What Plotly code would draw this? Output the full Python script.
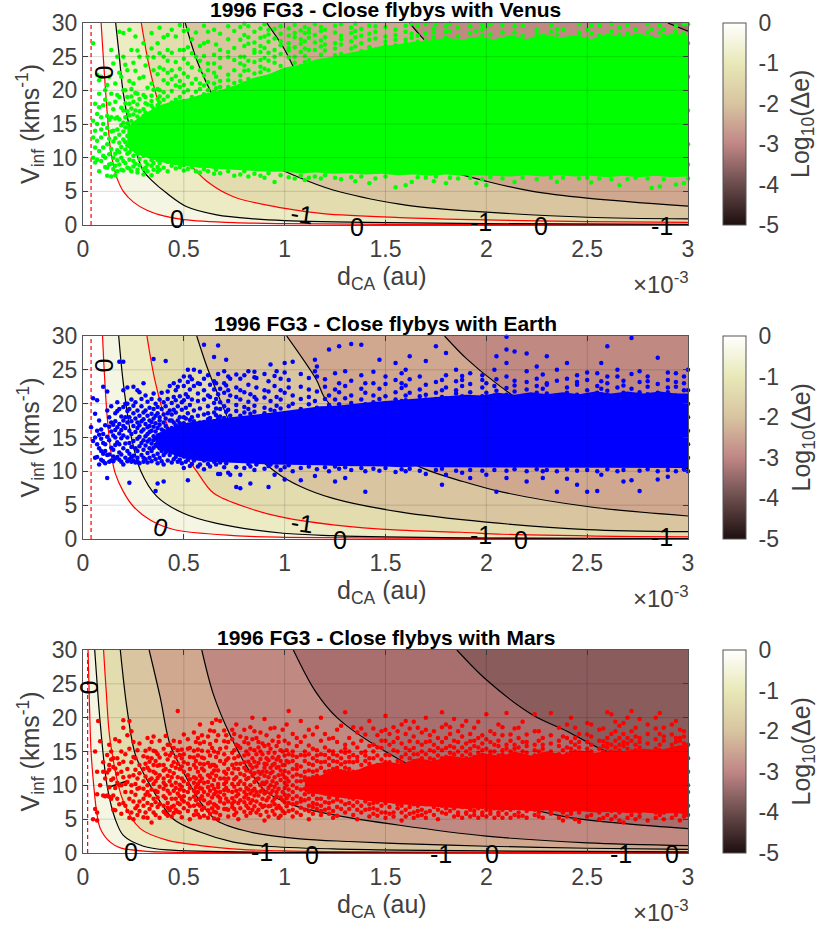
import plotly.graph_objects as go

W, H = 817, 926
AX_L, AX_R = 83, 688
TOPS = [23, 336, 650]
BOTS = [225, 539, 853]
NAMES = ["Venus", "Earth", "Mars"]
DOT = ["#00ff00", "#0000ff", "#ff0000"]
X_TICKS = [0, 0.5, 1, 1.5, 2, 2.5, 3]
X_LABELS = ["0", "0.5", "1", "1.5", "2", "2.5", "3"]
Y_TICKS = [0, 5, 10, 15, 20, 25, 30]
BANDS = ["#f5f5e3", "#ecebc3", "#e3dcaf", "#d9c5a0", "#cfa88f", "#c08a82", "#a96e6e", "#8a5c5c"]
LINE = ["red", "black", "red", "black", "black", "black", "black", "black"]
CB_SCALE = [[0, "#1e0f0f"], [0.2, "#6a4c4c"], [0.4, "#c08686"], [0.6, "#d8c4a0"], [0.8, "#e8e8b8"], [1, "#ffffff"]]
CB_TICKS = [0, -1, -2, -3, -4, -5]
CB_LABELS = ["0", "-1", "-2", "-3", "-4", "-5"]
IMPACT = [0.04, 0.04, 0.023]

V1 = [(.09,30),(.094,28),(.107,22),(.119,17),(.135,11.5),(.15,9),(.168,7),(.2,5),(.25,3.4),(.317,2.2),(.4,1.35),(.5,.8),(.75,.35),(1,.2),(1.5,.1),(3,.03)]
V2 = [(.162,30),(.18,25),(.2,19.5),(.243,13),(.3,8),(.342,6.6),(.416,4.7),(.515,2.7),(.663,1.5),(.85,.9),(1,.65),(1.5,.35),(2,.2),(3,.1)]
V3 = [(.289,30),(.325,24),(.366,19),(.449,12),(.53,9),(.614,6.5),(.746,4.2),(.993,2.5),(1.19,1.7),(1.57,1.1),(2,.75),(2.5,.5),(3,.38)]
V4 = [(.507,30),(.564,24.5),(.63,20),(.746,13.6),(.9,9.5),(1.06,7.2),(1.24,5.2),(1.57,3.1),(1.735,2.5),(2,1.9),(2.5,1.15),(3,.9)]
V5 = [(.911,30),(.993,26.4),(1.1,20.5),(1.3,14.5),(1.6,10),(2,6.5),(2.23,5),(2.5,4),(3,2.8)]
V6 = [(1.62,30),(1.68,27.9),(1.81,24),(2.04,18.8),(2.4,14),(3,8.5)]
V7 = [(2.9,30),(3,28.8)]
VENUS_CURVES = [V1, V2, V3, V4, V5, V6, V7]

E1 = [(.097,30),(.105,25),(.12,18),(.14,12.5),(.16,9.7),(.2,7),(.25,4.8),(.333,2.8),(.449,1.4),(.746,.5),(1,.25),(1.5,.12),(3,.03)]
E2 = [(.177,30),(.2,23),(.24,15),(.284,10.2),(.366,6.3),(.498,3.8),(.663,2.3),(.993,.85),(1.24,.5),(1.5,.3),(2,.15),(3,.07)]
E3 = [(.317,30),(.36,23),(.43,16),(.564,10),(.647,6.8),(.828,4.5),(.993,3.2),(1.24,2.1),(1.57,1.3),(1.875,1),(2.08,.7),(2.76,.35),(3,.3)]
E4 = [(.564,30),(.614,25.5),(.663,21.8),(.77,15),(.96,9.8),(1.076,7.8),(1.24,6),(1.57,4),(2,2.5),(2.5,1.4),(3,1.08)]
E5 = [(1.01,30),(1.158,23.5),(1.2,20.8),(1.4,15),(1.69,10.4),(1.884,8.5),(2.07,7),(2.5,4.8),(3,3.4)]
E6 = [(1.793,30),(1.9,26.7),(2.05,23),(2.5,14),(3,10.4)]
EARTH_CURVES = [E1, E2, E3, E4, E5, E6]

M1 = [(.025,30),(.032,22),(.04,15),(.053,10),(.068,6),(.086,3.6),(.135,1.6),(.185,.75),(.317,.25),(1,.06),(3,.01)]
M2 = [(.058,30),(.07,25),(.086,19),(.119,10),(.16,5),(.2,2.6),(.3,1),(.416,.45),(1,.1),(3,.02)]
M3 = [(.102,30),(.115,24),(.135,16.5),(.2,7.6),(.284,3.6),(.416,1.9),(.58,1.1),(.78,.55),(1,.3),(1.5,.15),(3,.04)]
M4 = [(.185,30),(.218,21.4),(.26,14.5),(.333,10),(.449,5),(.58,3.1),(.746,1.6),(.911,1),(1.24,.6),(1.57,.42),(2,.3),(3,.18)]
M5 = [(.328,30),(.383,23),(.432,16),(.515,11),(.58,7.6),(.663,4.8),(.828,3.1),(1.076,2.1),(1.32,1.7),(1.57,1.4),(2,1),(2.5,.7),(3,.55)]
M6 = [(.589,30),(.647,23.4),(.73,17.4),(.828,12),(.91,9),(1.05,7),(1.25,5.6),(1.57,4.1),(2,2.5),(2.5,1.5),(3,1.1)]
M7 = [(1.043,30),(1.15,24),(1.26,20),(1.5,15),(1.8,10.5),(2.1,7.5),(2.4,5.3),(2.7,4.3),(3,3.6)]
M8 = [(1.854,30),(2,25.6),(2.23,20.4),(2.4,18),(2.58,15.2),(2.8,13),(3,11)]
MARS_CURVES = [M1, M2, M3, M4, M5, M6, M7, M8]

VENUS_BAND_D = [.22,.27,.32,.38,.45,.52,.6,.68,.76,.84,.92,1,1.08,1.16,1.24,1.32,1.4,1.48,1.56,1.64,1.72,1.8,1.88,1.96,2.04,2.12,2.2,2.28,2.36,2.44,2.52,2.6,2.68,2.76,2.84,2.92,3]
VENUS_BAND_HI = [14.5,15.8,16.8,17.8,18.4,18.8,19.5,20,20.8,21.8,22.4,23.4,23.8,24.6,25,25.6,26,26.6,26.8,27.2,27.4,27.8,27.5,28,27.6,28.2,27.6,28.4,27.8,28.2,27.6,28.4,28,28.4,27.8,28.4,28.2]
VENUS_BAND_LO = [11.5,10.5,10,9.4,9,8.7,8.5,8.3,8.2,8,7.9,7.9,7.7,7.8,7.6,7.7,7.5,7.6,7.4,7.5,7.3,7.5,7.3,7.4,7.3,7.2,7.4,7.2,7.4,7.2,7.3,7.1,7.3,7.1,7.3,7.1,7.2]
VENUS_COLS = [
(.05,[27,15.5,13,10]),(.06,[18,14,11.5,9.3]),(.07,[22.3,16.5,15,12.5,9.7]),(.08,[21.5,19.5,17.5,11,8]),(.09,[16,14.2,13,9.5,22]),(.1,[15,11.5,17.8,10.3]),
(.11,[13.5,20,10,8.6,18.6]),(.12,[20.8,16.2,12,8.5,7.3,14.4]),(.13,[22,18,15.6,10.5,12.8,9]),(.14,[26,16,13.9,11.3,9.1,7.2,19.5]),(.15,[24,14,10,12.4,17.2,8.3]),(.16,[21,18.3,15.8,12.9,10.6,7.4,8.8]),
(.17,[25,16,14.2,11.1,8,19.3,9.6]),(.18,[28.7,19,22.6,13.4,15.7,9,10.8,12.2]),(.19,[22,17.4,14.8,11.6,8.2,10]),(.2,[25,28.5,17,20,15.2,12.7,9.5,13.9,8.1]),(.21,[20,23.8,18.1,16,11.2,14.5,9.2,12.3]),(.22,[23,16.9,8.5,10.6,13.2,19,15.1,11.8]),
(.23,[29,18,21.4,14.6,12.4,9.7,16.3,10.8,8.4]),(.24,[26,8,17.3,20.2,15.4,13.1,11.2,19.1,14]),(.25,[21,24.1,18.3,16.4,12.1,9.5,10.3,13.8,8.7]),(.26,[28,17,15.2,19.6,11,14.4,9.1,12.6,22.9]),(.27,[19.5,7.8,25.9,16.1,13.4,8.2,10.5,17.9,14.7]),(.28,[25,18.7,21.8,15.7,12.2,9.8,11.4,16.9,8.9,13.6]),
(.3,[22,7.5,27,17.2,19.3,15,13,10.3,8.3,11.8,16.2,14.2]),(.31,[19,8.5,23.7,16.7,12.4,9.4,18.1,14.8,10.8]),(.32,[25,17.9,20.4,15.6,8,11.2,9,16.4]),(.34,[21,7.4,26.2,17.7,16.1,19.2,10.1,8.8,18.4,9.6,28.5]),(.35,[23,8.2,16.8,20.1,11.4,15.3,9.2,24.9,17.3]),(.37,[27,20.2,17.8,16.2,8.6,10.4,22.4,18.7,9.7,7.9]),
(.38,[20,25.5,18.2,16.6,8.2,11,23.4,29.3,19.1,9.2]),(.4,[25,17.5,21.5,16,8.5,10.2,19.7,27.9,9.7,23.1,18.6]),(.42,[21,28.2,17.1,24.4,8,19.1,9.4,26,16.8,22.6,10.6]),(.44,[23,18.2,19.9,8.8,17,29,25.6,10.1,21.7,9.6,16.3]),(.46,[28,17.5,24.2,20.7,8.4,18.6,9.2,22.1,16.6]),(.48,[20.5,26,19,18,8.6,23.2,17,9.9,21.4,29.7]),
(.5,[26,17.3,19.7,18.4,8.1,22.5,24.7,8.9,20.8,16.6,28.8]),(.52,[29,18,22,20,8.3,24,17,26.4,9.5]),(.54,[19,21,17.4,23.4,8.6,18.3,25.5,27.6]),(.56,[25,18.1,19.8,21.7,8,17.2,28.6,9.2]),(.58,[21,18.6,23,20.2,7.8,17.5,26.6,24.4,8.8]),(.6,[27,19.4,18,22.2,8.3,20.7,29.6,25.1]),
(.62,[24,18.3,21.2,8,19.2,27.2,23,20,28.7]),(.65,[29,19.8,18.4,22.6,7.6,25.3,21,8.6,24]),(.66,[22,20.3,18.8,26.8,8.2,19.4]),(.68,[26,23.4,19.7,21.4,7.7,28.4,20.5,24.8]),(.72,[20.5,22.3,27.6,24.9,8,19.9,21.5,25.7,29.5]),(.75,[23,21.1,26.3,19.4,7.3,28.8,24.5,20.3]),
(.78,[27.5,22.2,25,20.6,7.5,24,21.4,29.4]),(.8,[25,22.9,28.2,8,21,23.7,26.6,29.9]),(.82,[29.5,24.4,21.7,7.2,26.9,23,27.9]),(.85,[22.5,25.6,28.7,7.6,24.2,27.1,26]),(.88,[24.5,27.8,22.7,7.3,25.7,29.2,23.5,26.6]),(.9,[28,7,24.8,26.3,23.2,29.8]),
(.92,[23,25.6,27.2,7.7,29,24.4,28.3]),(.95,[26,6.4,29.1,24.1,27.7,25]),(.98,[29.5,7.4,23.6,25.4,27.3,26.7,28.4]),(1.02,[27,7.1,24.9,29.2,25.9,28.1,26.3]),(1.05,[25,6.9,27.9,29.7,26.4,24.1,28.5]),(1.08,[23.6,28.9,7.3,25.7,26.9,27.6]),
(1.1,[28.5,6.7,25.1,27.3,29.4,24.2,26.2]),(1.12,[24.5,7,27.8,26,29.1,28.6]),(1.15,[26,7.2,28.2,29.8,24,27.1]),(1.18,[27.4,6.9,25.3,28.8,26.5,29.4]),(1.2,[29,7.4,25.9,27.9,24.4,26.8]),(1.25,[27,7,28.6,25.2,29.6,26.2]),
(1.28,[29.8,6.8,26.8,28.1,25.4,27.6]),(1.33,[28.5,7.1,26.2,29.3,27.3,25.2]),(1.35,[26.5,6.5,29.9,27.9,28.8]),(1.38,[25.8,7.2,28.1,29.1,27]),(1.42,[27.5,6.2,26.4,29.6,28.4]),(1.45,[29.5,6.9,26.1,28.7,27.7]),
(1.5,[28,7.2,26.6,29.4,27.2]),(1.55,[29,5.6,27.5,28.2,26.7]),(1.6,[27.5,5.9,29.6,28.7,26.9]),(1.63,[6.4,28.4,29.9,27.8]),(1.66,[29.5,7.1,28.1,27.2]),(1.7,[28.5,7,29.8,27.4]),
(1.74,[6.5,27.9,29.2,28.6]),(1.75,[29.8,7.2,27.3]),(1.8,[6.2,28.7,29.5,27.8]),(1.82,[28.8,7,29.9,27.2]),(1.86,[28,6.9,29.3]),(1.92,[29.5,7,27.5,28.5]),
(1.95,[6.2,28.8,27.6]),(1.98,[29,6.8,28.2,29.7]),(2,[5.9,27.3,29.4]),(2.02,[28.3,7.1,29.8]),(2.08,[29.7,6.9,28.6,27.5]),(2.14,[28.6,6.4,29.5,27.4]),
(2.18,[29.6,7,28.1]),(2.25,[29,6.8,27.9,28.4]),(2.32,[29.7,7,28.7,27.9]),(2.35,[6.4,28.3,29.1]),(2.38,[29,7,27.6]),(2.46,[29.8,6.9,28.6,28]),
(2.5,[29,7,27.7]),(2.52,[6.3,28.4,29.7]),(2.56,[29.6,6.9,28.1]),(2.62,[28.8,6.8,29.9,27.8]),(2.66,[5.9,28.3,29.3]),(2.7,[29.7,6.8,28.5]),
(2.74,[29.1,7,28.2,27.8]),(2.8,[29.8,6.9,28.6]),(2.82,[5.5,29.1,27.9]),(2.86,[5.7,28.6,29.6]),(2.88,[29,6.8,28.1]),(2.94,[6,28.7,29.5]),(2.98,[6.2,29.8,28.4,27.7]),(3,[29.8,27,6.9,12,17,22,9]),
]

EARTH_BAND_D = [.36,.42,.47,.52,.56,.62,.7,.78,.86,.94,1.02,1.1,1.18,1.26,1.34,1.42,1.5,1.58,1.66,1.74,1.82,1.9,1.98,2.06,2.14,2.22,2.3,2.38,2.46,2.54,2.62,2.7,2.78,2.86,2.94,3]
EARTH_BAND_HI = [15.5,16.2,16.8,17.2,17.4,17.6,17.9,18.1,18.4,18.7,19,19.2,19.6,19.7,20,20.2,20.4,20.6,20.8,21,21.2,21.3,21.2,21.6,21.3,21.7,21.4,21.7,21.4,21.8,21.5,21.8,21.5,21.8,21.5,21.5]
EARTH_BAND_LO = [13.5,12.8,12.2,11.8,11.6,11.4,11.3,11.2,11.1,11,11,10.9,10.9,10.8,10.8,10.7,10.7,10.6,10.7,10.6,10.6,10.6,10.6,10.5,10.6,10.5,10.5,10.6,10.5,10.5,10.6,10.5,10.5,10.6,10.5,10.5]
EARTH_COLS = [
(.04,[16.5]),(.05,[20.8,14.5]),(.06,[18.5,15,12]),(.07,[20.5,16,12.1,14]),(.08,[17.5,15.4,11,13.4]),(.09,[14.8,13,16.2,11.7]),
(.1,[22.5,15.5,11.5,14.2,12.6]),(.11,[14,16.8,13,11.2]),(.12,[21.8,19,9,15.1,12.4]),(.13,[18,12.5,14.6,16.6,11.4]),(.14,[13.5,15.9,17.2,11.6,19.6]),(.15,[11.5,15.3,13.2,16.9,12.2]),
(.16,[15,18.6,13.9,11.9,17.4,16.1]),(.17,[16.5,12.1,14.3,20.2,18.9]),(.18,[14,26.2,15.6,12.8,17,11.7,19.2]),(.19,[12.5,16.1,14.9,18.1,11.4]),(.2,[11,22,26.2,15.3,13.4,17.5,19.5,16.7]),(.21,[18,12,14.1,16.4,20]),
(.22,[20,15,13,17.2,11.5,18.9,22.4]),(.23,[16,8.3,14.2,12.6,19.2,18,11.8]),(.24,[17.4,13.6,15.5,20.6,12.1,11.4]),(.25,[22.5,14.5,16.7,12.3,18.6,11.6,19.7]),(.26,[13.4,15.8,17.8,20.2,11.3]),(.27,[22,13,19,16.4,14.8,12,17.2,11.5]),
(.28,[11.2,18.2,15.1,13.7,21.7,16.8]),(.29,[14.2,19.6,12.4,17.4,15.9,20.7]),(.3,[23,12,16.2,18.7,14.6,13.2,11.4,17.7]),(.31,[19,15.2,11.8,13.8,21.2,17]),(.32,[15.5,12.7,20.3,18.2,14.4,16.5,11.3]),(.33,[17.5,13.4,15.8,19.4,12,16.7,14.7]),
(.34,[14.1,18.5,11.5,20.7,16,13,17.3]),(.35,[21.5,13.5,26.6,15.2,17.8,12.3,19.2,14.6,16.6]),(.36,[20,7.1,11.8,18.2,13.9,15.9,14.9,17.1]),(.37,[8.2,16.4,12.6,19.5,14.2,18.6,11.2]),(.38,[18,12,20.6,15.3,13.4,16.9,14.6,17.5]),(.39,[14,19.2,11.5,21.6,16.2,15,13]),
(.4,[8.5,11,16,18.4,13.7,20.2,14.8,17.2,12.4]),(.41,[26.3,15.4,19.6,12.8,17.8,14.2,16.7]),(.42,[14,21.8,11.6,18.6,16.3,13.1,20.7,15.2]),(.43,[19,12.4,15.7,17.5,13.8,22.6]),(.44,[17.5,14.6,11.3,20.1,16.4,12.9,18.4]),(.45,[21,13.4,15.9,19.1,11.8,17.2,23]),
(.46,[12.1,16.8,14.2,18.7,20.5,15.3,22]),(.47,[22.5,13.8,17.5,11.4,19.6,16.2]),(.48,[18,11.7,15,12.6,21.1,14.1,23.4,17.1]),(.49,[19.1,12.9,16.6,20.2,11.2,13.6]),(.5,[20.5,10.5,18,12.2,22.6,17.1,15,14.2,24]),(.51,[11.4,16.2,19.4,21.4,13,17.8]),
(.52,[21,8.7,18.6,11.7,23.2,16.6,12.6,25]),(.53,[24,19.8,10.8,17.6,14.1,22.1]),(.54,[18,11.1,20.6,12.4,16.9,23.6]),(.55,[25,19,22.6,11.6,17.4,13]),(.57,[23,18.2,10.7,20.4,16.5,21.5,12.5]),(.58,[19.3,11,17.2,22.9,24.7,16.4]),
(.6,[22,28.7,10.3,18.4,20.6,11.6,17.3,23.7]),(.62,[19.6,21.2,11.1,17.7,24.2,18.6]),(.63,[21,10.7,16.8,22.8,17.9]),(.65,[26.9,18.7,11.4,20.1,23.3,17.4,22.1]),(.66,[23,20.7,11,18.3,19.3]),(.67,[28.6,9.6,17.8,21.4,24.4]),
(.68,[9.6,19.2,11.3,18.1,22.2,20.2]),(.7,[24.8,10.6,21.6,17.9,19.6,23]),(.71,[26.5,11.2,18.8,22.7]),(.72,[22,9.8,20.4,19.1,24]),(.73,[9.5,18.2,21.2,23.7]),(.76,[21,7.7,10.6,18.9,24.3,22.4,19.8]),
(.78,[23.7,7.5,9.5,18.2,20.6,22]),(.8,[19.5,10.5,24.2,21.7,18.7]),(.82,[24.8,11.1,20.3,22.8,19.2]),(.83,[8.2,10.7,18.5,21.4]),(.85,[21,23.9,10.2,19.7,18.8,24.7]),(.86,[23.8,11,20.6,22.4]),
(.9,[22,10.4,19.4,24.4,20.9,18.6]),(.92,[7.7,10.8,21.8,23.3]),(.93,[25.8,11,19.1,20.4]),(.95,[9.5,22.6,24.1,18.9]),(.96,[24.8,10.7,21,19.7]),(.98,[22,10.2,23.7,19.3,20.6]),
(1,[26,8.8,10.6,21.6,24.6]),(1.02,[23.5,10.9,19.6,22.4]),(1.04,[26.2,10,21.2,20]),(1.08,[22.5,8.7,10.5,24.4,19.2,20.7]),(1.12,[21,10.7,23.8,19.9,22.1]),(1.15,[9.3,26.5,20.4,24.8]),
(1.16,[24,25.5,10.3,21.8,19.4]),(1.2,[22.5,10.6,20.7,23.6]),(1.22,[28,10,19.8,21.2]),(1.25,[24.5,8.5,10.7,22.1,20.6]),(1.27,[28.5,23,10.4,19.9,21.7]),(1.3,[24.8,9,10.6,22.6,20.8]),
(1.33,[28.8,10.2,21.2,23.4,20.1]),(1.38,[28.7,10.5,22.2,20.6,24.2]),(1.4,[7,10,21.6,23,19.9]),(1.44,[23,10.4,21.2,24.7,20.2]),(1.47,[26.5,10.1,22.2,20.7]),(1.5,[24,10.5,21.1,22.9,20]),
(1.55,[26,9.9,21.7,23.5,20.6]),(1.58,[23,10.3,22.3,20.4,24.5]),(1.6,[25,10,21.2,20.5,22.7]),(1.62,[27,10.4,21.6,23.6]),(1.67,[24,10.1,22.1,20.5,21.1]),(1.7,[26.3,9.6,22.8,21.3,20.6]),
(1.75,[28.5,10.2,23.2,21.6,20.7]),(1.78,[23.5,8,10.4,22,21]),(1.8,[27.5,9.5,24.2,20.8,22.4]),(1.85,[25,10.1,23.3,21.5,22]),(1.88,[23.5,9.8,22.6,21.1,24.1]),(1.92,[24.5,9,10.2,21.7,22.9]),
(1.98,[23.5,10.1,22.4,21.1,24.2]),(2,[9.5,21.6,23,20.8]),(2.04,[25,10.2,22.6,21.2]),(2.05,[7,27,23.6,21.9]),(2.1,[28,29.9,26,9,10.1,22.3,21.3,24]),(2.14,[27.7,23.4,10.3,21.8,22.7]),
(2.2,[24.8,27.4,8.5,10,22.1,21.1,23.2]),(2.25,[25.5,10.3,21.6,23.7,22.6]),(2.28,[9,10,22.2,21,24.3]),(2.3,[27,23,10.2,21.5,22.8]),(2.35,[25,7,10,23.4,21.2]),(2.4,[26,8.9,10.3,22.4,21.6,23.7]),
(2.45,[22.8,8,10.1,21.3,24.2,23.2]),(2.5,[23.5,7,10.2,22,21.2,24.6]),(2.55,[24.5,7.1,10,22.6,21.6]),(2.57,[26,9.5,23.3,21.4,22.2]),(2.6,[28.5,10.3,24,21.9,23]),(2.65,[24,10,22.4,21.2,25]),
(2.68,[8.5,10.2,23.4,21.6,22.7]),(2.72,[8.7,29.7,24.4,21.2,22.2]),(2.76,[7.1,10.1,23.2,21.7,24.8]),(2.8,[24,10.3,22.5,21.4,23.3]),(2.85,[26.8,8.8,10,22.9,21.6]),(2.9,[23.5,9.2,10.2,24.6,21.7,22.4]),
(2.94,[24.5,10,22.5,21.2,23.2]),(2.98,[23,10.3,22,24,21.1]),(3,[25,10,12,14,16,18,20,22]),
]

MARS_BAND_D = [1.1,1.18,1.26,1.34,1.42,1.5,1.58,1.66,1.74,1.82,1.9,1.98,2.06,2.14,2.22,2.3,2.38,2.46,2.54,2.62,2.7,2.78,2.86,2.94,3]
MARS_BAND_HI = [11,11.5,12.5,12,13,13.5,13.2,14,13.6,14.4,14,14.8,14.2,15,14.4,15,14.6,15.2,14.8,15.2,15,15.4,15.2,15.8,16]
MARS_BAND_LO = [9,8.6,8.2,8,7.7,7.4,7.2,7,6.8,6.7,6.5,6.6,6.3,6.4,6.2,6.3,6,6.2,6,6.1,5.9,6,5.8,5.9,5.7]
MARS_COLS = [
(.05,[5]),(.06,[15,6.5]),(.07,[8.7,12,4.8,6]),(.075,[19.5]),(.085,[16.5,10]),(.1,[12,13.4,8.5]),(.11,[11,8.4]),(.12,[14.5,8.5,11.9]),(.13,[16,13,8.3,12.3,9.7]),(.14,[15,10.8,13.8,8]),
(.15,[8.5,11,6.4,12.7,14]),(.16,[6.3,12.5,9.6,16.8]),(.17,[8,14,10.4,11.7]),(.18,[16.5,13.2,7.2,10]),(.19,[10,12,5.8,15]),(.2,[18.5,13.5,7.4,11.2,19.6]),(.21,[7,14.6,9,10.2]),(.22,[10.5,6.2,12.4,17.4]),(.23,[19.5,8,5.2,15.4,11.3]),(.24,[18,6,13.4,10,9]),
(.25,[5,11.5,16.4,7.6,14.2]),(.26,[14,8.6,12.3,6.6,10.2]),(.27,[11,7,5.6,15.2,9.5]),(.28,[13,9.6,16.2,6.2,11.8,7.6]),(.3,[9.5,5.3,12.4,14.3,8,10.6,7]),(.31,[13.2,6,11.3,15.1,8.6]),(.32,[5.2,17,10,12.6,7.4,14.1,9]),(.33,[8.5,12.2,6.5,15.4,10.8,13.5]),(.34,[11,4.5,14,9.4,7.1,16.4]),(.35,[13,8,10.2,6,12,15.1,17.2]),
(.36,[15,7.5,11.8,9.2,5.6,13.6,10.6]),(.37,[9,12.9,6.8,14.6,8.2,11.1]),(.38,[11.5,7.2,14.1,5.2,9.8,16.6,13]),(.4,[13,7,9.5,15.4,11,6.1,8.4,12.2,10.4]),(.41,[14.6,5.8,10,8.1,12.4,17.3]),(.42,[5.5,11.4,13.8,7.4,9.2,16,6.7]),(.43,[16,8.8,12.1,10.6,6.3,14.4]),(.44,[10,14.8,5.4,8,12.9,6.8,11.2]),(.45,[15.5,7,9.2,13.4,5.9,11.8,16.6]),(.46,[8,12.6,10.4,14.2,6.4,9.6]),
(.47,[21,6.1,13.2,11.2,8.8,15.2,7.4]),(.48,[6,10.1,14.5,12.4,8.4,16.4,7.2,9.4]),(.49,[14,7.9,11,5.3,9.8,12.8,15.3]),(.5,[12,17.5,6.6,9.2,14.6,10.6,7.6,13.4,8.4]),(.52,[9,13.2,6.2,11.5,15.4,7.3,10.2,16.8]),(.53,[5,15.5,8,12.4,6.9,10.9,14.2,9.6]),(.55,[13,7,11.2,17.8,5.6,9.2,15.1,8.3,10.4,14.1]),(.56,[11,6.2,8.8,16.4,12.6,7.8,13.6,9.7]),(.57,[17,5.7,10.2,14.4,7.2,12,9,15.3]),(.58,[19,7,11.4,13.2,9.6,5.3,16.2,8,10.6]),
(.59,[9.5,6.4,12.5,15.1,8.4,17.4,11,14.1]),(.6,[5.5,14,10.4,7.8,12.2,9,16.4,6.7,13.1]),(.62,[11.5,7.3,15,8.6,5.2,13.3,9.7,17.2,10.5,6.3]),(.63,[7.5,12.8,16.1,9.2,14.4,11.2,5.8,18.1]),(.64,[15.5,6.6,10,13,8.2,11.8,19.2]),(.65,[18,13,7.2,9.5,5.1,10.8,15,6.1,12.2,8.7]),(.66,[9,14.2,11.4,7,16.6,6,12.8,19.7]),(.67,[5,10.2,12.2,8.4,14.8,17.4,9.7,6.7]),(.68,[19.5,7.6,11,13.6,9,15.4,5.6,8.1]),(.7,[16.5,11,6.5,8.6,13.2,10.2,14.6,7.3,12,9.3,18.1]),
(.71,[6.5,11.7,9.6,15.6,8,13.7,17.4,10.5]),(.72,[14,7.6,12.4,5.4,9.2,16.4,11,6.4]),(.74,[9,13,16.8,6.8,11.8,8.1,14.8,10.2,7.3,18.2]),(.75,[12.5,5.6,9.8,15.2,7.6,10.9,17.6,14,6.5]),(.76,[19,8.4,13.2,11.2,6,16,9.2]),(.77,[5,10.2,14.3,7.4,12.4,8.7,15.8]),(.78,[15.5,6.6,9.4,11.7,17.2,13.2,7.8,10.6]),(.8,[7.5,11.5,18.2,9,14.4,6.1,12.6,16.4,8.2,10.2,13.4]),(.81,[17,5.5,10.9,8.6,15,12.2,7,9.6]),(.82,[13.5,6.6,11.1,8,14.6,16.2,9.4]),
(.83,[10,7.4,13,18.6,5.9,12,15.4,8.8]),(.84,[20,9.2,11.4,14,6.4,16.8,7.8,12.6]),(.85,[18,6.9,10.5,13.5,8.5,15.2,11.8,9.5]),(.86,[6,12.8,14.6,9,17,7.6,10.9]),(.87,[8.5,11,15.6,13.3,6.4,12,16.4]),(.88,[15,7.2,10,13.9,5.6,11.7,9.1,17.8]),(.89,[12,8,14.6,6.8,16.2,10.4,9.3]),(.9,[4.8,19.8,13.2,8.8,11.4,15.8,7,10.2,12.6]),(.91,[10.5,6.1,14,17.4,9,12,7.8,13.1]),(.92,[16,8.2,11.2,5.4,14.8,9.6,13.7,6.9]),
(.93,[7,12.6,10,15.4,18.4,8.8,11.8]),(.94,[13,6.2,9.2,16.6,10.6,7.6,14.1,12]),(.95,[18.5,8,11.2,14.8,5.7,9.8,13.2,7.2]),(.96,[9,12.6,15.8,6.6,10.3,8.4,13.8]),(.97,[11.5,7,14.2,17.2,9.5,5.2,12.7,16.4]),(.98,[5.5,10.8,13.6,8.2,15.2,6.6,12.2]),(.99,[15,7.8,11.6,9,18.2,13,6.2]),(1,[7.5,13,10.4,16.6,8.6,12.1,14.4,5.9,9.6,11.2]),(1.01,[19,6.9,11,15.2,8.1,13.6,10]),(1.02,[21,8.5,13.4,6.2,11.9,16.2,9.4,14.6,7.4,10.6]),
(1.04,[10,12.4,7.2,15,5.4,9,17.6,13.6,8,11.3,6.4,14.4]),(1.06,[17,6,11.6,8.4,13,9.6,15.8,7.4,10.6,12.4,14.2]),(1.08,[19.5,14.5,8,10.6,6.7,12.8,5.6,9.4,16.4,11.4,7.6]),(1.1,[15,9.5,12,6.4,7.8,13.6,17.2,10.8,8.7,11.2,14.4]),(1.12,[11,7,13.2,5,9,15.9,18.2,8,12.2,6.2,14.6,10.2]),(1.14,[17.5,12,8.6,14,6.8,10.4,5.8,15.4,9.5,13,11.2,7.4]),(1.16,[6.5,10.5,13.6,8,15.2,12.2,9.2,18.6,7.2,11.4,14.4]),(1.18,[20,8,12.6,9.8,5.6,14.6,11,16.6,7,13.4,6.2]),(1.2,[10,13.5,7.5,15.6,12,8.8,17.6,6.4,11.2,14.5,9.4]),(1.22,[13,11,7.4,9,5.8,15.1,16.9,8.2,12.1,14,10.2,6.6]),
(1.24,[17,15,8.8,6.2,12.4,10.4,13.6,7.6,14.6,9.4,11.6,5.2]),(1.26,[5.5,13.5,7.9,11,9.2,16.4,14.4,6.8,12.6,10.2,18.2,8.4]),(1.28,[6.5,15,10.6,8.6,12,14,7.6,18.8,9.6,13.1,11.4]),(1.3,[20.8,16,10,7.2,12.6,14.8,8.4,6,11.4,13.4,9,15.4]),(1.32,[17,10,6.5,8.2,13.5,11.6,15,9.4,12.4,7.4,14.2]),(1.34,[14.5,9.5,5.6,12,16.2,8,10.6,13.4,7,11.2,18.6]),(1.36,[5,7.5,12,15.6,9,10.8,13.6,8.4,6.4,17.8,14.2]),(1.38,[12,7,16.6,9.8,14.8,6,11.4,13,8.4,10.4,18.4]),(1.4,[17.5,15,9,6.4,11.6,13.6,7.6,10.2,8.2,14.4,12.4]),(1.42,[19.5,6.5,14,8,12.6,7.2,15.8,5.4,11.2,13.2]),
(1.44,[16,14,7.4,11.4,5.8,18.4,12.6,8.6,6.6,15]),(1.46,[5.5,7.5,13,15.6,17.4,12,6.4,14.4,11]),(1.48,[18,15.5,8,6,12.6,13.8,7,16.6,11.6]),(1.5,[20.3,6,14.5,12.4,16.6,7.4,5.2,18.2,13.4]),(1.52,[16,14.5,6.8,8.2,17.6,12.6,5.8,13.4,11.4]),(1.54,[6,15.2,7.6,13,18.6,12,16.4,5.4]),(1.56,[18,13.6,6.6,15,8,12.4,17,7.2]),(1.58,[4.8,14.2,7,16.2,12.6,19,6,13.4]),(1.6,[19.5,15.5,6.4,13,7.6,17.6,14.6,5.4,12]),(1.62,[16.5,14,7.8,5.8,18.4,12.6,6.8,15.2,13.2]),
(1.64,[15.5,6,13.6,7.2,17.2,12.2,19.4,14.6,5.2]),(1.66,[5.5,18.5,14.6,7,16.4,12.4,6.2,13.4,8]),(1.68,[15,6.4,13,17.8,7.6,12,16,5.6,14]),(1.7,[20,16.4,7.2,14.6,12.6,6,18.2,13.4,5.2]),(1.72,[16.5,6.2,14,7.8,13,17.4,12.4,15.2]),(1.74,[18,5.6,15,6.8,12.8,13.8,7.4,16]),(1.76,[5,15.5,13,6.4,17,12.2,14.4,7.6]),(1.78,[20.8,16.4,7,14,12.8,6,15.2,18.6]),(1.8,[17,5.8,15.5,7.6,13.2,19,14.2,6.6]),(1.82,[15.8,6.2,13.6,17.6,12.8,7.2,18.6,14.8]),
(1.84,[19.8,5.4,14.6,7,16.6,12.6,6.6,15.6]),(1.86,[18,6,13.4,16.4,7.4,15,13,5.6]),(1.88,[5.2,17.2,14.4,6.8,15.6,13.2,7.6,18.8]),(1.9,[19.5,16.2,6,14,7.2,13.4,15,5.8]),(1.92,[16.5,5.4,14.6,7.6,17.6,13,6.4,15.4]),(1.94,[18.5,6.2,13.4,15.8,7,16.6,14.2,5.6]),(1.96,[17,5.2,14.8,7.4,13.2,15.6,6.6,19.4]),(1.98,[15.2,6,13.6,17.4,6.8,14.4,16.2,5.6]),(2,[20.5,16.8,5.4,14,7.2,13.2,15.4,6.4]),(2.02,[18,5.8,15,7,14.6,13.4,16.4,6.2]),
(2.04,[16,5.2,13.6,17.6,7.4,15,6.6,14.2]),(2.06,[19,6,14.4,15.8,7,13.6,5.6,16.6]),(2.08,[5.2,17.4,13.8,6.4,15.2,14.6,7.2,18.6]),(2.1,[20.7,16,5.8,14.2,7.6,15.4,6.8,13.4]),(2.12,[17.5,6.4,15,13.6,7,14,5.2,16.6]),(2.14,[16,5.6,14.6,7.2,13.2,18.4,6.6,15.4]),(2.16,[18.5,6,15.6,13.8,7.4,14.4,5.4,17]),(2.18,[5.5,16.4,14,6.8,15,13.4,7,19.4]),(2.2,[17.5,6.2,14.8,7.6,15.8,13.6,5.2,16.4]),(2.24,[20.5,5.6,16,14.4,7,15.2,6.4,13.8,18]),
(2.26,[18,6,15,7.2,14,16.6,5.4,13.6]),(2.28,[16,5.2,14.6,6.6,15.4,17,7.4,13.8]),(2.32,[20.7,17.4,5.8,15,7,14.2,6.2,16.2,13.4]),(2.36,[18.5,5.2,15.8,6.8,14.6,13.8,7.2,16.6]),(2.38,[4.8,17.2,15.2,6,14,7.4,13.4]),(2.4,[17,5.4,15.6,6.6,14.6,19,13.8,7]),(2.42,[20,5.8,16.4,7.2,14.8,13.6,15.4,6.2]),(2.44,[18.5,5,15,6.8,14.2,17,7.4,16]),(2.46,[4.6,17.6,15.6,6,14.6,13.4,7,16.4]),(2.5,[17.5,5.4,15.4,6.6,14.8,19.2,7.2,16.4]),
(2.52,[19,5.6,16,6.4,15,13.8,7,17.2]),(2.56,[5,18.2,15.4,6,14.4,16.6,6.8,13.6]),(2.58,[16.5,5.2,15,7,14.2,18.4,6.4,15.8]),(2.6,[20.8,17,5.6,15.6,6.8,14.6,16.2,7.2]),(2.62,[20.5,5,15,6.2,14.2,17.6,7,16]),(2.64,[18,5.4,15.6,6.6,14.6,16.6,13.8,19.4]),(2.66,[17,4.8,15.2,7,14.4,18.8,6,16]),(2.68,[4.5,17.6,15.8,6.4,14.2,16.4,6.8,19.2]),(2.7,[20,5.2,15.4,6.2,14.6,17,7,16.2]),(2.72,[21,18,5.6,15,6.8,14.4,16.6,13.8]),
(2.74,[18.5,5,16,6.4,14.8,17.2,7.2,15.2]),(2.76,[17,5.4,15.6,6,14.2,19.8,6.8,16.4]),(2.8,[19,4.8,16.2,6.4,15,17.6,14.6,7]),(2.84,[20,5.2,15.4,6.8,14.8,16.8,18.4,6]),(2.86,[20.7,5.6,16,6.2,15.2,17.6,14.4,7.2]),(2.88,[18.5,5,16.6,6.6,15,14.2,17.2,6]),(2.92,[17.5,5.2,16,6.4,15.4,19,14.8,6.9]),(2.94,[19.5,5.6,16.4,6,15,17,14.6,6.8]),(2.96,[17,4.8,15.6,6.2,16.6,14.8,18.2,7]),(2.98,[18,5.4,16.2,6.6,15.4,17.2,14.4,5.9]),(3,[16,12,9,7,5.6,14,10]),
]

LABELS = [
 [("0",.102,22.7,90),("0",.465,.9,0),("-1",1.084,1.7,8),("0",1.36,-.25,0),("-1",1.975,.5,0),("0",2.27,-.15,0),("-1",2.87,-.15,0)],
 [("0",.102,25.7,90),("0",.386,1.8,15),("-1",1.084,2.3,8),("0",1.274,-.15,0),("-1",1.975,.6,0),("0",2.17,-.15,0),("-1",2.87,.3,0)],
 [("0",.028,24.5,90),("0",.238,.1,0),("-1",.886,.1,0),("0",1.134,-.25,0),("-1",1.776,-.1,0),("0",2.03,-.1,0),("-1",2.67,-.1,0),("0",2.92,-.1,0)],
]
BROKEN_LABEL_D = [.135, .215]
BROKEN_LABEL_V = [9.8, 10.6]

CURVES = [VENUS_CURVES, EARTH_CURVES, MARS_CURVES]
BAND_D = [VENUS_BAND_D, EARTH_BAND_D, MARS_BAND_D]
BAND_HI = [VENUS_BAND_HI, EARTH_BAND_HI, MARS_BAND_HI]
BAND_LO = [VENUS_BAND_LO, EARTH_BAND_LO, MARS_BAND_LO]
COLS = [VENUS_COLS, EARTH_COLS, MARS_COLS]

FONT = "Liberation Sans"
GRAY = "#404040"
fig = go.Figure()
layout = dict(width=W, height=H, margin=dict(l=0, r=0, t=0, b=0, autoexpand=False), paper_bgcolor="white",
              plot_bgcolor="white", showlegend=False, font=dict(family=FONT, color=GRAY), annotations=[], shapes=[])


def note(text, px, py, size, angle=0, color=GRAY, bold=False, xanchor="center"):
    layout["annotations"].append(dict(text=f"<b>{text}</b>" if bold else text, xref="paper", yref="paper",
                                      x=px / W, y=1 - py / H, showarrow=False, textangle=angle, xanchor=xanchor,
                                      yanchor="middle", font=dict(size=size, color=color, family=FONT)))


for i in range(3):
    xa, ya = f"x{i+1}", f"y{i+1}"
    layout[f"xaxis{i+1}"] = dict(range=[0, 3], tickvals=X_TICKS, ticktext=X_LABELS, domain=[AX_L / W, AX_R / W],
              anchor=ya, showgrid=False, zeroline=False, ticks="inside", ticklen=5, tickcolor=GRAY, tickwidth=1,
              mirror="ticks", showline=True, linecolor="#555555", linewidth=1, layer="above traces",
              ticklabelstandoff=3, tickfont=dict(size=23, color=GRAY, family=FONT))
    layout[f"yaxis{i+1}"] = dict(range=[0, 30], tickvals=Y_TICKS, domain=[1 - BOTS[i] / H, 1 - TOPS[i] / H], anchor=xa,
              showgrid=False, zeroline=False, ticks="inside", ticklen=5, tickcolor=GRAY, tickwidth=1, mirror="ticks",
              showline=True, linecolor="#555555", linewidth=1, layer="above traces",
              tickfont=dict(size=23, color=GRAY, family=FONT))

    for k, c in enumerate(CURVES[i]):
        ds = [p[0] for p in c] + [3, 3]
        vs = [p[1] for p in c] + [30, 30]
        fig.add_trace(go.Scatter(x=ds, y=vs, xaxis=xa, yaxis=ya, mode="lines", line=dict(width=0),
                                 fill="toself", fillcolor=BANDS[k], hoverinfo="skip"))
    for k, c in enumerate(CURVES[i]):
        fig.add_trace(go.Scatter(x=[p[0] for p in c], y=[p[1] for p in c], xaxis=xa, yaxis=ya, mode="lines",
                                 line=dict(color=LINE[k], width=1.2, shape="spline", smoothing=0.9), hoverinfo="skip"))
    fig.add_trace(go.Scatter(x=[IMPACT[i], IMPACT[i]], y=[0, 30], xaxis=xa, yaxis=ya, mode="lines",
                             line=dict(color="red", width=1.2, dash="4px,3px")))
    if i == 2:
        fig.add_trace(go.Scatter(x=BROKEN_LABEL_D, y=BROKEN_LABEL_V, xaxis=xa, yaxis=ya, mode="lines",
                                 line=dict(color="black", width=1.5)))

    lo = BAND_LO[i]
    fig.add_trace(go.Scatter(x=BAND_D[i] + BAND_D[i][::-1], y=BAND_HI[i] + lo[::-1], xaxis=xa, yaxis=ya, mode="lines",
                             line=dict(width=0), fill="toself", fillcolor=DOT[i], hoverinfo="skip"))
    pd_ = [d for d, vs in COLS[i] for _ in vs]
    pv_ = [v for _, vs in COLS[i] for v in vs]
    fig.add_trace(go.Scatter(x=pd_, y=pv_, xaxis=xa, yaxis=ya, mode="markers",
                             marker=dict(color=DOT[i], size=4.5, line=dict(width=0)), cliponaxis=False))

    top_frac = 1 - TOPS[i] / H
    fig.add_trace(go.Scatter(x=[1.5, 1.5], y=[15, 15], xaxis=xa, yaxis=ya, mode="markers", hoverinfo="skip",
                             marker=dict(size=1, opacity=0, color=[-5, 0], cmin=-5, cmax=0, colorscale=CB_SCALE,
                                         showscale=True,
                                         colorbar=dict(x=723 / W, xanchor="left", xpad=0, ypad=0, thickness=23,
                                                       thicknessmode="pixels", len=(BOTS[i] - TOPS[i]) / H,
                                                       lenmode="fraction", y=top_frac, yanchor="top",
                                                       tickvals=CB_TICKS, ticktext=CB_LABELS, ticks="outside", ticklen=8,
                                                       tickcolor="rgba(0,0,0,0)", outlinecolor="#555555", outlinewidth=1,
                                                       tickfont=dict(size=23, color=GRAY, family=FONT)))))

    for t in X_TICKS[1:-1]:
        layout["shapes"].append(dict(type="line", xref=xa, yref=ya, x0=t, x1=t, y0=0, y1=30, layer="above",
                                     line=dict(color="rgba(0,0,0,0.14)", width=1)))
    for t in Y_TICKS[1:-1]:
        layout["shapes"].append(dict(type="line", xref=xa, yref=ya, x0=0, x1=3, y0=t, y1=t, layer="above",
                                     line=dict(color="rgba(0,0,0,0.14)", width=1)))

    for txt, d, v, rot in LABELS[i]:
        layout["annotations"].append(dict(text=txt, xref=xa, yref=ya, x=d, y=max(v, 0), yshift=min(v, 0) * 6.7,
                                          showarrow=False, textangle=rot,
                                          font=dict(size=25, color="black", family=FONT)))
    cy = (TOPS[i] + BOTS[i]) / 2
    note(f"1996 FG3 - Close flybys with {NAMES[i]}", 385.5, TOPS[i] - 13, 21, color="black", bold=True)
    note("d<sub>CA</sub> (au)", 382, BOTS[i] + 53, 25)
    note("V<sub>inf</sub> (kms<sup>-1</sup>)", 30, cy, 25, angle=-90)
    note("×10<sup>-3</sup>", 691, BOTS[i] + 58, 24, xanchor="right")
    note("Log<sub>10</sub>(Δe)", 802, cy, 25, angle=-90)

fig.update_layout(**layout)
fig.write_html("out.html", config={"displayModeBar": False}, post_script="document.body.style.margin='0';")
